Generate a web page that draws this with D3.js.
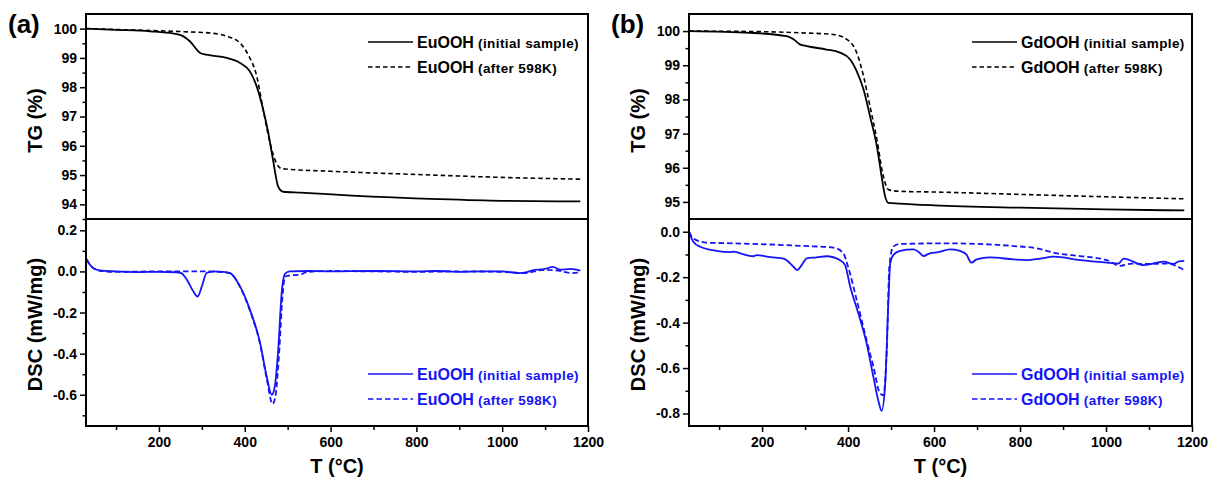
<!DOCTYPE html>
<html>
<head>
<meta charset="utf-8">
<script src="https://cdn.jsdelivr.net/npm/d3@7"></script>
<style>
  body { margin: 0; background: #fff; }
  svg { font-family: "Liberation Sans", Arial, sans-serif; font-weight: bold; }
</style>
</head>
<body>
<div id="chart"></div>
<script>
// Temperature axis
const tDomain = [30, 1200];
const tMajorTicks = [200, 400, 600, 800, 1000, 1200];
const tMinorTicks = [100, 300, 500, 700, 900, 1100];

// Panel (a) EuOOH, pairs of [T (°C), value]
const euTgInitial = [[30,100],[100,99.96],[179,99.91],[249,99.79],[272,99.57],[296,99.17],[311,99.11],[358,99.0],[389,98.83],[412,98.54],[428,98.02],[443,97.23],[455,96.43],[466,95.51],[478,94.6],[490,94.43],[529,94.4],[650,94.3],[850,94.18],[1000,94.12],[1182,94.1]];
const euTgAfter = [[30,100],[150,99.95],[250,99.9],[320,99.85],[358,99.74],[389,99.51],[408,99.11],[428,98.37],[443,97.23],[459,96.09],[474,95.4],[486,95.22],[500,95.2],[600,95.13],[800,95.02],[1000,94.92],[1182,94.86]];
const euDscInitial = [[30,0.065],[40,0.03],[47,0.016],[62,0.005],[100,0.0],[150,-0.003],[200,-0.002],[240,-0.004],[252,-0.008],[265,-0.04],[280,-0.097],[290,-0.122],[300,-0.073],[311,-0.008],[327,0.0],[350,-0.002],[366,-0.008],[389,-0.073],[412,-0.186],[436,-0.35],[451,-0.51],[463,-0.6],[470,-0.56],[478,-0.38],[486,-0.105],[494,-0.011],[505,0.0],[550,0.002],[600,0.0],[700,0.002],[800,0.0],[850,0.002],[900,-0.002],[950,0.0],[1000,0.0],[1040,-0.008],[1055,-0.005],[1070,0.005],[1100,0.012],[1118,0.022],[1135,0.008],[1160,0.012],[1182,0.004]];
const euDscAfter = [[30,0.06],[45,0.02],[62,0.003],[100,-0.002],[200,0.0],[300,0.0],[340,-0.002],[366,-0.01],[389,-0.075],[412,-0.19],[436,-0.355],[451,-0.52],[465,-0.645],[472,-0.6],[480,-0.4],[488,-0.12],[494,-0.025],[505,-0.02],[530,-0.015],[545,-0.003],[600,0.002],[700,0.0],[800,-0.002],[900,0.0],[1000,-0.002],[1050,-0.008],[1100,0.008],[1140,0.0],[1160,-0.008],[1182,-0.004]];

// Panel (b) GdOOH
const gdTgInitial = [[30,100],[172,99.95],[257,99.85],[273,99.76],[288,99.61],[304,99.56],[350,99.46],[381,99.37],[405,99.17],[420,98.83],[436,98.29],[451,97.51],[467,96.63],[478,95.75],[486,95.17],[494,94.97],[518,94.95],[600,94.9],[800,94.83],[1000,94.78],[1182,94.75]];
const gdTgAfter = [[30,100],[211,99.98],[288,99.95],[366,99.9],[397,99.76],[420,99.37],[436,98.68],[451,97.8],[467,96.83],[482,95.75],[494,95.36],[518,95.31],[600,95.29],[800,95.22],[1000,95.15],[1182,95.09]];
const gdDscInitial = [[30,0.0],[40,-0.044],[56,-0.066],[94,-0.084],[125,-0.09],[133,-0.088],[164,-0.103],[180,-0.108],[187,-0.103],[220,-0.112],[250,-0.118],[257,-0.125],[273,-0.154],[282,-0.169],[292,-0.147],[304,-0.117],[327,-0.113],[350,-0.108],[381,-0.125],[393,-0.147],[405,-0.242],[424,-0.36],[443,-0.49],[459,-0.64],[470,-0.74],[478,-0.788],[486,-0.68],[494,-0.3],[498,-0.139],[505,-0.103],[521,-0.084],[552,-0.078],[565,-0.09],[575,-0.107],[590,-0.095],[610,-0.09],[637,-0.078],[660,-0.084],[675,-0.1],[687,-0.136],[699,-0.122],[730,-0.113],[785,-0.122],[816,-0.125],[847,-0.118],[878,-0.11],[940,-0.125],[1002,-0.136],[1029,-0.14],[1041,-0.118],[1088,-0.147],[1134,-0.132],[1157,-0.142],[1170,-0.13],[1182,-0.128]];
const gdDscAfter = [[30,0.0],[40,-0.029],[71,-0.048],[133,-0.051],[288,-0.062],[366,-0.07],[389,-0.095],[400,-0.154],[420,-0.3],[443,-0.477],[459,-0.594],[474,-0.71],[482,-0.72],[490,-0.52],[496,-0.154],[505,-0.066],[521,-0.054],[629,-0.051],[785,-0.063],[839,-0.073],[862,-0.084],[886,-0.095],[940,-0.107],[1002,-0.125],[1033,-0.15],[1060,-0.14],[1088,-0.142],[1141,-0.14],[1182,-0.169]];

// Y tick values
const euTgTicks = [94, 95, 96, 97, 98, 99, 100];
const euTgMinor = [93.5, 94.5, 95.5, 96.5, 97.5, 98.5, 99.5];
const euDscTicks = [-0.6, -0.4, -0.2, 0.0, 0.2];
const euDscMinor = [-0.7, -0.5, -0.3, -0.1, 0.1];
const gdTgTicks = [95, 96, 97, 98, 99, 100];
const gdTgMinor = [95.5, 96.5, 97.5, 98.5, 99.5];
const gdDscTicks = [-0.8, -0.6, -0.4, -0.2, 0.0];
const gdDscMinor = [-0.7, -0.5, -0.3, -0.1];

const legendInitial = '(initial sample)';
const legendAfter = '(after 598K)';

const width = 1209, height = 477;
const plotTop = 14, plotSplit = 219, plotBottom = 426;
const blue = '#1414f5';

const svg = d3.select('#chart')
    .append('svg')
    .attr('width', width)
    .attr('height', height);

function drawPanel({ left, right, tag, name, tgDomain, tgTicks, tgMinor, dscDomain, dscTicks, dscMinor,
                     tgInitial, tgAfter, dscInitial, dscAfter }) {
    const x = d3.scaleLinear().domain(tDomain).range([left, right]);
    const yTg = d3.scaleLinear().domain(tgDomain).range([plotSplit, plotTop]);
    const yDsc = d3.scaleLinear().domain(dscDomain).range([plotBottom, plotSplit]);

    const g = svg.append('g');

    // Lines
    const tgLine = d3.line().x(d => x(d[0])).y(d => yTg(d[1])).curve(d3.curveMonotoneX);
    const dscLine = d3.line().x(d => x(d[0])).y(d => yDsc(d[1])).curve(d3.curveMonotoneX);

    g.append('path').datum(tgAfter).attr('d', tgLine)
        .attr('fill', 'none').attr('stroke', '#000').attr('stroke-width', 1.6)
        .attr('stroke-dasharray', '4.5,3');
    g.append('path').datum(tgInitial).attr('d', tgLine)
        .attr('fill', 'none').attr('stroke', '#000').attr('stroke-width', 1.8);
    g.append('path').datum(dscAfter).attr('d', dscLine)
        .attr('fill', 'none').attr('stroke', blue).attr('stroke-width', 1.8)
        .attr('stroke-dasharray', '5.5,3');
    g.append('path').datum(dscInitial).attr('d', dscLine)
        .attr('fill', 'none').attr('stroke', blue).attr('stroke-width', 1.8);

    // Axes
    const fmtTg = d => String(d);
    const fmtDsc = d => d.toFixed(1);

    const axisStyle = sel => {
        sel.select('.domain').remove();
        sel.selectAll('line').attr('stroke', '#000').attr('stroke-width', 1.5);
        sel.selectAll('text').style('font-size', '14px').style('font-weight', 'bold')
            .style('font-family', '"Liberation Sans", Arial, sans-serif').attr('fill', '#000');
    };

    g.append('g').attr('transform', `translate(${left},0)`)
        .call(d3.axisLeft(yTg).tickValues(tgTicks).tickFormat(fmtTg).tickSize(6).tickPadding(3))
        .call(axisStyle);
    g.append('g').attr('transform', `translate(${left},0)`)
        .call(d3.axisLeft(yTg).tickValues(tgMinor).tickFormat('').tickSize(3.5))
        .call(axisStyle);
    g.append('g').attr('transform', `translate(${left},0)`)
        .call(d3.axisLeft(yDsc).tickValues(dscTicks).tickFormat(fmtDsc).tickSize(6).tickPadding(3))
        .call(axisStyle);
    g.append('g').attr('transform', `translate(${left},0)`)
        .call(d3.axisLeft(yDsc).tickValues(dscMinor).tickFormat('').tickSize(3.5))
        .call(axisStyle);
    g.append('g').attr('transform', `translate(0,${plotBottom})`)
        .call(d3.axisBottom(x).tickValues(tMajorTicks).tickFormat(d3.format('d')).tickSize(6).tickPadding(5))
        .call(axisStyle);
    g.append('g').attr('transform', `translate(0,${plotBottom})`)
        .call(d3.axisBottom(x).tickValues(tMinorTicks).tickFormat('').tickSize(4))
        .call(axisStyle);

    // Frame and divider
    g.append('rect')
        .attr('x', left).attr('y', plotTop)
        .attr('width', right - left).attr('height', plotBottom - plotTop)
        .attr('fill', 'none').attr('stroke', '#000').attr('stroke-width', 2);
    g.append('line')
        .attr('x1', left).attr('x2', right)
        .attr('y1', plotSplit).attr('y2', plotSplit)
        .attr('stroke', '#000').attr('stroke-width', 2);

    // Axis titles
    g.append('text')
        .attr('transform', `translate(${left - 44},${(plotTop + plotSplit) / 2 + 4}) rotate(-90)`)
        .attr('text-anchor', 'middle')
        .style('font-size', '20px')
        .text('TG (%)');
    g.append('text')
        .attr('transform', `translate(${left - 44},${(plotSplit + plotBottom) / 2 + 2}) rotate(-90)`)
        .attr('text-anchor', 'middle')
        .style('font-size', '20px')
        .text('DSC (mW/mg)');
    g.append('text')
        .attr('x', (left + right) / 2)
        .attr('y', 473)
        .attr('text-anchor', 'middle')
        .style('font-size', '20px')
        .text('T (°C)');

    // Panel tag
    g.append('text')
        .attr('x', left - 78)
        .attr('y', 33)
        .style('font-size', '26px')
        .text(tag);

    // Legends: line sample, then left-aligned label
    const textX = right - 171;
    const legendRow = (y, sub, color, dash) => {
        g.append('line')
            .attr('x1', textX - 49).attr('x2', textX - 4)
            .attr('y1', y).attr('y2', y)
            .attr('stroke', color).attr('stroke-width', 1.6)
            .attr('stroke-dasharray', dash);
        const t = g.append('text')
            .attr('x', textX)
            .attr('y', y + 6)
            .attr('fill', color);
        t.append('tspan').style('font-size', '16px').text(name);
        t.append('tspan').style('font-size', '13.5px').style('letter-spacing', '0.4px').text(' ' + sub);
    };
    legendRow(42, legendInitial, '#000', null);
    legendRow(67, legendAfter, '#000', '4.5,3');
    legendRow(374, legendInitial, blue, null);
    legendRow(399, legendAfter, blue, '5.5,3');
}

drawPanel({
    left: 86, right: 588, tag: '(a)', name: 'EuOOH',
    tgDomain: [93.5, 100.5], tgTicks: euTgTicks, tgMinor: euTgMinor,
    dscDomain: [-0.752, 0.255], dscTicks: euDscTicks, dscMinor: euDscMinor,
    tgInitial: euTgInitial, tgAfter: euTgAfter, dscInitial: euDscInitial, dscAfter: euDscAfter
});

drawPanel({
    left: 689, right: 1192, tag: '(b)', name: 'GdOOH',
    tgDomain: [94.5, 100.5], tgTicks: gdTgTicks, tgMinor: gdTgMinor,
    dscDomain: [-0.855, 0.056], dscTicks: gdDscTicks, dscMinor: gdDscMinor,
    tgInitial: gdTgInitial, tgAfter: gdTgAfter, dscInitial: gdDscInitial, dscAfter: gdDscAfter
});
</script>
</body>
</html>
